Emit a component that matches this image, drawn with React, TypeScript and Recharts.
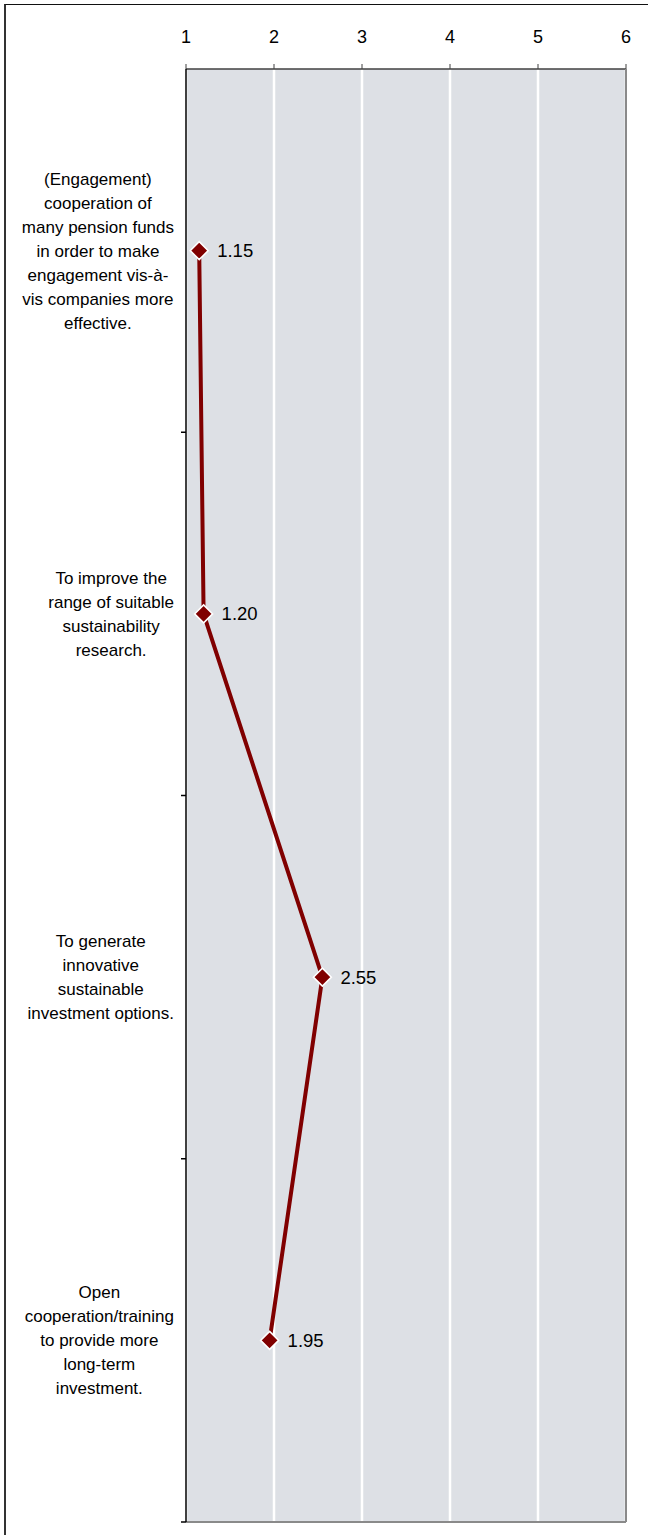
import { LineChart, Line, XAxis, YAxis, CartesianGrid, LabelList } from 'recharts'

const categories = [
  '(Engagement)\ncooperation of\nmany pension funds\nin order to make\nengagement vis-à-\nvis companies more\neffective.',
  'To improve the\nrange of suitable\nsustainability\nresearch.',
  'To generate\ninnovative\nsustainable\ninvestment options.',
  'Open\ncooperation/training\nto provide more\nlong-term\ninvestment.',
]
const scores = [1.15, 1.2, 2.55, 1.95]
const scaleTicks = [1, 2, 3, 4, 5, 6]

const data = categories.map((name, i) => ({ name, score: scores[i] }))

const FONT = "'Liberation Sans', Arial, sans-serif"
const W = 648
const H = 1535
const TOP = 69
const LEFT = 186
const RIGHT_PAD = 22
const BOTTOM_PAD = 13
const BAND = (H - TOP - BOTTOM_PAD) / categories.length
const RED = '#800000'

let ctx: CanvasRenderingContext2D | null = null
function textWidth(s: string, size: number) {
  if (!ctx) ctx = document.createElement('canvas').getContext('2d')
  if (!ctx) return s.length * size * 0.5
  ctx.font = `${size}px 'Liberation Sans', Arial`
  return ctx.measureText(s).width
}

function CategoryTick(props: any) {
  const { y, payload } = props
  const lines: string[] = String(payload.value).split('\n')
  const maxW = Math.max(...lines.map((l) => textWidth(l, 17)))
  const cx = 174 - maxW / 2
  const lh = 24
  const start = y - ((lines.length - 1) * lh) / 2
  return (
    <g>
      <line x1={LEFT - 5} x2={LEFT} y1={y + BAND / 2} y2={y + BAND / 2} stroke="#000" strokeWidth={1.5} />
      <text x={cx} y={start} textAnchor="middle" fontSize={17} fontFamily={FONT} fill="#000">
        {lines.map((l, i) => (
          <tspan key={i} x={cx} y={start + i * lh} dy="0.35em">
            {l}
          </tspan>
        ))}
      </text>
    </g>
  )
}

function ScaleTick(props: any) {
  const { x, payload } = props
  return (
    <text x={x} y={43} textAnchor="middle" fontSize={18} fontFamily={FONT} fill="#000">
      {payload.value}
    </text>
  )
}

function Diamond(props: any) {
  const { cx, cy } = props
  if (cx == null || cy == null) return null
  const r = 9
  return (
    <polygon
      points={`${cx},${cy - r} ${cx + r},${cy} ${cx},${cy + r} ${cx - r},${cy}`}
      fill={RED}
      stroke="#fff"
      strokeWidth={1.5}
    />
  )
}

function ValueLabel(props: any) {
  const { x, y, value } = props
  return (
    <text x={x + 18} y={y} dy="0.35em" fontSize={18.5} fontFamily={FONT} fill="#000">
      {Number(value).toFixed(2)}
    </text>
  )
}

export default function App() {
  return (
    <div style={{ position: 'absolute', left: 0, top: 0, width: W, height: H, overflow: 'hidden', background: '#fff' }}>
      <div
        style={{
          position: 'absolute',
          left: 4,
          top: 4,
          width: W + 20,
          height: H + 20,
          borderLeft: '2px solid #333',
          borderTop: '1.5px solid #111',
          boxSizing: 'border-box',
        }}
      />
      <div style={{ position: 'absolute', left: 0, top: 0 }}>
        <LineChart width={W} height={H} data={data} layout="vertical" margin={{ top: 0, right: 0, bottom: 0, left: 0 }}>
          <CartesianGrid horizontal={false} stroke="#fff" strokeWidth={2.5} fill="#dde0e5" fillOpacity={1} />
          <XAxis
            type="number"
            orientation="top"
            domain={[1, 6]}
            ticks={scaleTicks}
            height={TOP}
            tickSize={5}
            axisLine={{ stroke: '#404040', strokeWidth: 1.5 }}
            tickLine={{ stroke: '#404040' }}
            tick={<ScaleTick />}
            allowDataOverflow
          />
          <XAxis
            xAxisId="bottom"
            type="number"
            orientation="bottom"
            domain={[1, 6]}
            height={BOTTOM_PAD}
            tick={false}
            tickLine={false}
            axisLine={{ stroke: '#8a8a8a', strokeWidth: 2 }}
          />
          <YAxis
            type="category"
            dataKey="name"
            scale="band"
            width={LEFT}
            tickLine={false}
            axisLine={{ stroke: '#000', strokeWidth: 1.5 }}
            tick={<CategoryTick />}
            interval={0}
          />
          <YAxis
            yAxisId="right"
            type="category"
            dataKey="name"
            scale="band"
            orientation="right"
            width={RIGHT_PAD}
            tick={false}
            tickLine={false}
            axisLine={{ stroke: '#8a8a8a', strokeWidth: 2 }}
          />
          <Line
            dataKey="score"
            stroke={RED}
            strokeWidth={4}
            dot={<Diamond />}
            activeDot={false}
            isAnimationActive={false}
          >
            <LabelList dataKey="score" content={<ValueLabel />} />
          </Line>
        </LineChart>
      </div>
    </div>
  )
}
